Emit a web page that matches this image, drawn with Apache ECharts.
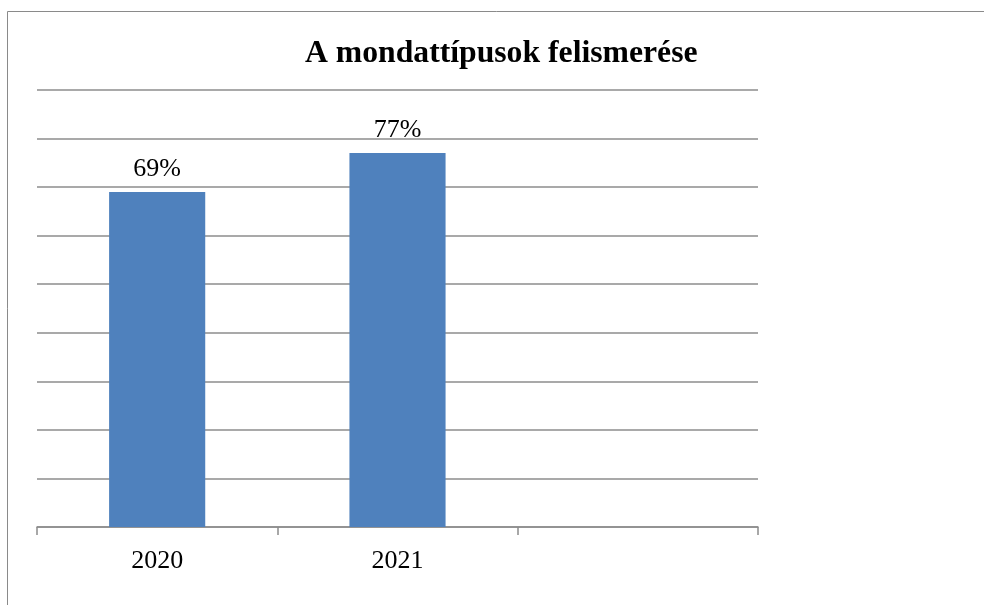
<!DOCTYPE html>
<html>
<head>
<meta charset="utf-8">
<script src="https://cdn.jsdelivr.net/npm/echarts@6/dist/echarts.min.js"></script>
<style>
html,body{margin:0;padding:0;background:#fff;}
#chart{width:984px;height:605px;}
</style>
</head>
<body>
<div id="chart"></div>
<script>
var categories = ['2020', '2021', ''];
var values = [0.69, 0.77, null];
var titleText = 'A mondattípusok felismerése';
var yMin = 0;
var yMax = 0.9;
var yStep = 0.1;

var chart = echarts.init(document.getElementById('chart'));
chart.setOption({
  animation: false,
  backgroundColor: '#fff',
  title: {
    text: titleText,
    left: 300,
    top: 33,
    textStyle: {
      fontFamily: '"Liberation Serif", "Times New Roman", serif',
      fontWeight: 'bold',
      fontSize: 31.7,
      color: '#000'
    }
  },
  graphic: [{
    type: 'rect',
    shape: { x: 7.5, y: 11.5, width: 1200, height: 800 },
    style: { fill: 'none', stroke: '#8a8a8a', lineWidth: 1 },
    silent: true
  }],
  grid: { left: 37, right: 226, top: 90, bottom: 78 },
  xAxis: {
    type: 'category',
    data: categories,
    axisLine: { lineStyle: { color: '#8c8c8c', width: 1.5 } },
    axisTick: { show: true, length: 8, lineStyle: { color: '#8c8c8c', width: 1.5 } },
    axisLabel: {
      fontFamily: '"Liberation Serif", "Times New Roman", serif',
      fontSize: 26,
      color: '#000',
      margin: 21
    }
  },
  yAxis: {
    type: 'value',
    min: yMin,
    max: yMax,
    interval: yStep,
    axisLine: { show: false },
    axisTick: { show: false },
    axisLabel: { show: false },
    splitLine: { lineStyle: { color: '#8c8c8c', width: 1.5 } }
  },
  series: [{
    type: 'bar',
    data: values,
    barWidth: '40%',
    itemStyle: { color: '#4F81BD' },
    label: {
      show: true,
      position: 'top',
      distance: 10,
      formatter: function (p) { return Math.round(p.value * 100) + '%'; },
      fontFamily: '"Liberation Serif", "Times New Roman", serif',
      fontSize: 26,
      color: '#000'
    }
  }]
});
</script>
</body>
</html>
